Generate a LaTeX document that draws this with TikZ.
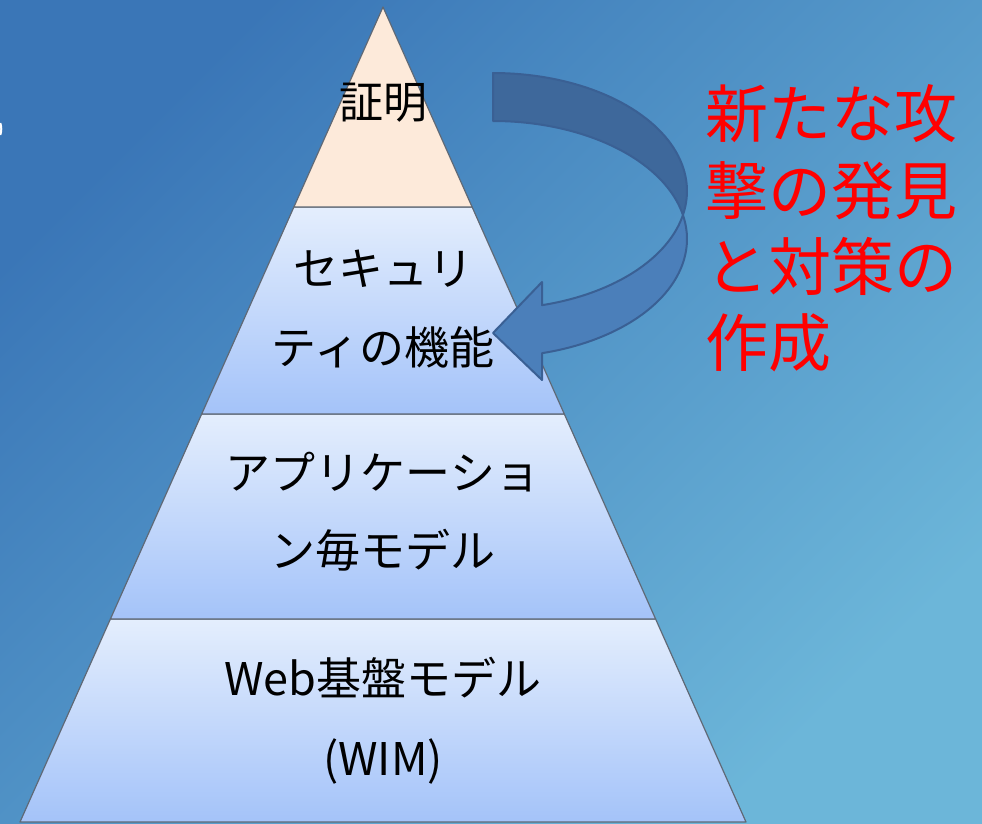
\documentclass[tikz,border=0pt]{standalone}
\usepackage{fontspec}
\setmainfont{Noto Sans CJK JP}
\definecolor{bgA}{RGB}{58,118,183}
\definecolor{bgB}{RGB}{108,182,217}
\definecolor{layTop}{RGB}{228,238,253}
\definecolor{layBot}{RGB}{164,195,249}
\definecolor{peach}{RGB}{253,234,218}
\definecolor{edge}{RGB}{95,105,118}
\definecolor{arrDark}{RGB}{62,104,155}
\definecolor{arrLight}{RGB}{75,127,186}
\definecolor{arrEdge}{RGB}{58,96,148}
\tikzset{
  layer/.style={draw=edge, line width=1.2pt, line join=round, top color=layTop, bottom color=layBot},
  toplayer/.style={draw=edge, line width=1.2pt, line join=round, fill=peach},
  lbl/.style={font=\fontsize{45}{54}\selectfont, inner sep=0pt, anchor=base, text=black},
  redlbl/.style={font=\fontsize{63}{76}\selectfont, inner sep=0pt, anchor=base west, text=red},
  arrowpart/.style={draw=arrEdge, line width=2pt, line join=round}
}
\begin{document}
\begin{tikzpicture}[x=1pt,y=-1pt]
\useasboundingbox (0,0) rectangle (982,824);
\shade[top color=bgA, bottom color=bgB, shading angle=45] (0,0) rectangle (982,824);
% small white fragment at the left edge
\draw[white, line width=2pt] (0.3,123) .. controls (1.6,127) and (1.6,131) .. (0.3,135);
% pyramid layers
\path[layer] (20,822) -- (110.4,619) -- (655.6,619) -- (746,822) -- cycle;
\path[layer] (110.4,619) -- (201.7,414) -- (564.3,414) -- (655.6,619) -- cycle;
\path[layer] (201.7,414) -- (293.9,207) -- (472.1,207) -- (564.3,414) -- cycle;
\path[toplayer] (293.9,207) -- (383,7) -- (472.1,207) -- cycle;
% labels
\node[lbl, font=\fontsize{44}{52}\selectfont] (proof) at (383,119) {証明};
\node[lbl] (sec1) at (383,285) {セキュリ};
\node[lbl] (sec2) at (383,364) {ティの機能};
\node[lbl] (app1) at (383,489) {アプリケーショ};
\node[lbl] (app2) at (383,567) {ン毎モデル};
\node[lbl] (web1) at (383,695) {Web基盤モデル};
\node[lbl] (web2) at (383,775) {(WIM)};
% curved arrow: back part
\path[arrowpart, fill=arrDark]
  plot[domain=90:-11.74, samples=50, variable=\t] ({493+194*cos(\t)},{191-118*sin(\t)})
  -- plot[domain=11.74:90, samples=50, variable=\t] ({493+194*cos(\t)},{239-118*sin(\t)})
  -- cycle;
% curved arrow: front part with head
\path[arrowpart, fill=arrLight]
  plot[domain=-11.74:-75.37, samples=50, variable=\t] ({493+194*cos(\t)},{191-118*sin(\t)})
  -- (542,282) -- (493,333) -- (542,380)
  -- plot[domain=-75.37:11.74, samples=50, variable=\t] ({493+194*cos(\t)},{239-118*sin(\t)})
  -- cycle;
% red text
\node[redlbl] (r1) at (705,138) {新たな攻};
\node[redlbl] (r2) at (705,214) {撃の発見};
\node[redlbl] (r3) at (705,290) {と対策の};
\node[redlbl] (r4) at (705,366) {作成};
\end{tikzpicture}
\end{document}
